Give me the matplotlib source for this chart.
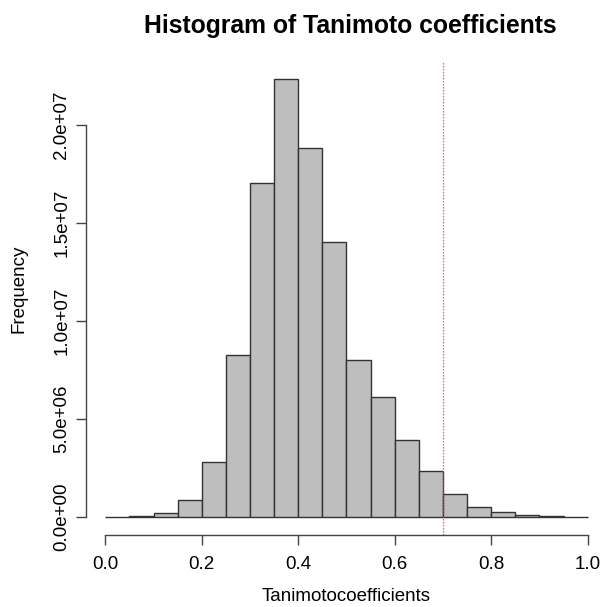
import matplotlib
matplotlib.use("Agg")
import matplotlib.pyplot as plt

plt.rcParams['font.family'] = ['Liberation Sans', 'DejaVu Sans']

# Data
bin_edges = [0.00, 0.05, 0.10, 0.15, 0.20, 0.25, 0.30, 0.35, 0.40, 0.45, 0.50,
             0.55, 0.60, 0.65, 0.70, 0.75, 0.80, 0.85, 0.90, 0.95, 1.00]
counts = [0.02e6, 0.05e6, 0.19e6, 0.85e6, 2.81e6, 8.26e6, 17.05e6, 22.38e6,
          18.86e6, 14.04e6, 8.01e6, 6.13e6, 3.92e6, 2.35e6, 1.17e6, 0.51e6,
          0.24e6, 0.10e6, 0.03e6, 0.02e6]
x_ticks = [0.0, 0.2, 0.4, 0.6, 0.8, 1.0]
x_tick_labels = ["0.0", "0.2", "0.4", "0.6", "0.8", "1.0"]
y_ticks = [0, 5e6, 1e7, 1.5e7, 2e7]
y_tick_labels = ["0.0e+00", "5.0e+06", "1.0e+07", "1.5e+07", "2.0e+07"]
threshold = 0.7

fig = plt.figure(figsize=(6.11, 6.07), dpi=100)
ax = fig.add_axes([0.1408, 0.1194, 0.9934 - 0.1408, 0.8995 - 0.1194])

widths = [bin_edges[i + 1] - bin_edges[i] for i in range(len(counts))]
ax.bar(bin_edges[:-1], counts, width=widths, align='edge',
       color='#BEBEBE', edgecolor='#333333', linewidth=1.0)

ymax = max(counts)
ax.set_xlim(-0.04, 1.04)
ax.set_ylim(-0.04 * ymax, 1.04 * ymax)

ax.axvline(threshold, color='#ff3b3b', linestyle=(0, (1.2, 1.2)), linewidth=0.9,
           alpha=0.85, zorder=3)

for s in ['top', 'right']:
    ax.spines[s].set_visible(False)
ax.spines['bottom'].set_bounds(x_ticks[0], x_ticks[-1])
ax.spines['left'].set_bounds(y_ticks[0], y_ticks[-1])
for s in ['bottom', 'left']:
    ax.spines[s].set_color('#444444')
    ax.spines[s].set_linewidth(1.0)

ax.set_xticks(x_ticks)
ax.set_xticklabels(x_tick_labels, fontsize=13.5)
ax.set_yticks(y_ticks)
ax.set_yticklabels(y_tick_labels, fontsize=13.5, rotation=90, va='center')
ax.tick_params(axis='both', length=7.2, width=1.0, color='#444444')
ax.tick_params(axis='x', pad=8)
ax.tick_params(axis='y', pad=4)

ax.set_xlabel("Tanimotocoefficients", fontsize=13.5, va='baseline')
ax.xaxis.set_label_coords(0.5, -0.141)
ax.set_ylabel("Frequency", fontsize=13.5, va='center')
ax.yaxis.set_label_coords(-0.1286, 0.518)

ax.set_title("Histogram of Tanimoto coefficients", fontsize=17.8,
             fontweight='bold', x=0.507, pad=20)

fig.savefig("out.png", dpi=100)
